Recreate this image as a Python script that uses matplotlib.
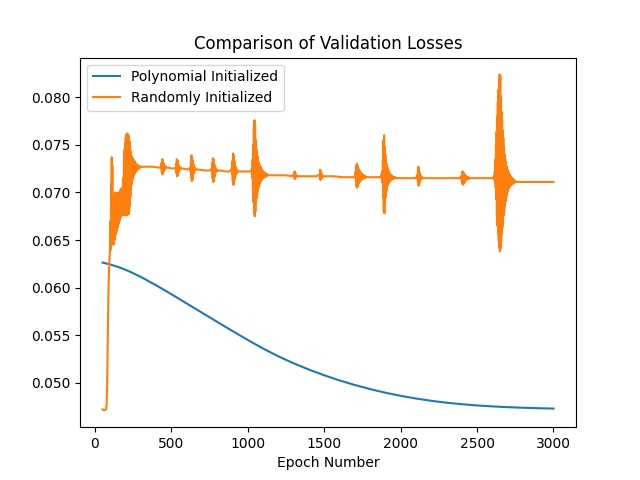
import matplotlib.pyplot as plt

# Polynomial initialized run - smooth decay
poly_epochs = [50, 100, 150, 200, 250, 300, 400, 500, 600, 700, 800, 900, 1000, 1100, 1200,
               1300, 1400, 1500, 1600, 1700, 1800, 1900, 2000, 2100, 2200, 2300,
               2400, 2500, 2600, 2700, 2800, 2900, 3000]
poly_loss = [0.06263, 0.06243, 0.06218, 0.06188, 0.06152, 0.06113, 0.06025, 0.05931, 0.05834,
             0.05737, 0.05640, 0.05544, 0.05450, 0.05360, 0.05278, 0.05205, 0.05139, 0.05079,
             0.05025, 0.04977, 0.04934, 0.04896, 0.04863, 0.04835, 0.04811, 0.04791, 0.04775,
             0.04762, 0.04752, 0.04744, 0.04738, 0.04733, 0.04729]

# Randomly initialized run - quiet stretches between the bursts
quiet_epochs = [50, 60, 72, 76, 80, 84, 88, 92, 96, 100,
                300, 340, 380, 420, 480, 510, 580, 605, 680, 720, 750,
                820, 860, 880, 960, 1000, 1020, 1150, 1200, 1250, 1290,
                1340, 1400, 1450, 1510, 1560, 1620, 1680, 1700, 1800, 1840, 1870,
                2000, 2050, 2100, 2160, 2220, 2280, 2340, 2390,
                2480, 2530, 2580, 2605, 2760, 2800, 2900, 3000]
quiet_loss = [0.0472, 0.0471, 0.0472, 0.0476, 0.0495, 0.0540, 0.0590, 0.0618, 0.0632, 0.0642,
              0.0727, 0.0727, 0.0727, 0.0726, 0.0726, 0.0725, 0.0725, 0.0724, 0.0724, 0.0723, 0.0723,
              0.0723, 0.0722, 0.0722, 0.0722, 0.0722, 0.0722, 0.0718, 0.0718, 0.0718, 0.0717,
              0.0717, 0.0717, 0.0717, 0.0717, 0.0717, 0.0716, 0.0716, 0.0716, 0.0716, 0.0716, 0.0716,
              0.0715, 0.0715, 0.0715, 0.0715, 0.0715, 0.0715, 0.0715, 0.0715,
              0.0715, 0.0715, 0.0715, 0.0715, 0.0711, 0.0711, 0.0711, 0.0711]

# bursts: upper / lower edge of the oscillation, read every 4 epochs
b0102_hi = [0.0670, 0.0710, 0.0737, 0.0728, 0.0690, 0.0672, 0.0692, 0.0698, 0.0700, 0.0697,
            0.0695, 0.0698, 0.0700, 0.0697, 0.0695, 0.0699, 0.0702, 0.0704, 0.0700, 0.0703,
            0.0706, 0.0715, 0.0732, 0.0745, 0.0752, 0.0758, 0.0761, 0.0762, 0.0760, 0.0761,
            0.0758, 0.0754, 0.0748, 0.0743, 0.0739, 0.0737, 0.0736, 0.0735, 0.0734, 0.0733,
            0.0732, 0.0731, 0.0730, 0.0729, 0.0729, 0.0728, 0.0728, 0.0728, 0.0727]
b0102_lo = [0.0640, 0.0652, 0.0660, 0.0655, 0.0645, 0.0646, 0.0650, 0.0652, 0.0656, 0.0658,
            0.0661, 0.0663, 0.0666, 0.0668, 0.0670, 0.0672, 0.0674, 0.0676, 0.0677, 0.0676,
            0.0678, 0.0677, 0.0676, 0.0677, 0.0676, 0.0677, 0.0676, 0.0677, 0.0678, 0.0677,
            0.0680, 0.0686, 0.0695, 0.0703, 0.0708, 0.0712, 0.0715, 0.0717, 0.0719, 0.0720,
            0.0721, 0.0722, 0.0723, 0.0724, 0.0724, 0.0725, 0.0725, 0.0726, 0.0726]

b0432_hi = [0.0727, 0.0731, 0.0735, 0.0734, 0.0731, 0.0729, 0.0728, 0.0727, 0.0727]
b0432_lo = [0.0725, 0.0721, 0.0719, 0.0720, 0.0722, 0.0724, 0.0725, 0.0725, 0.0726]
b0528_hi = [0.0726, 0.0730, 0.0735, 0.0734, 0.0731, 0.0728, 0.0727, 0.0726, 0.0726]
b0528_lo = [0.0724, 0.0720, 0.0717, 0.0718, 0.0721, 0.0723, 0.0724, 0.0725, 0.0725]
b0624_hi = [0.0726, 0.0732, 0.0739, 0.0737, 0.0733, 0.0730, 0.0728, 0.0726, 0.0725]
b0624_lo = [0.0722, 0.0716, 0.0712, 0.0713, 0.0717, 0.0720, 0.0722, 0.0723, 0.0724]
b0764_hi = [0.0725, 0.0731, 0.0736, 0.0735, 0.0731, 0.0728, 0.0726, 0.0725, 0.0724]
b0764_lo = [0.0721, 0.0715, 0.0711, 0.0712, 0.0716, 0.0719, 0.0721, 0.0722, 0.0723]
b0896_hi = [0.0725, 0.0733, 0.0741, 0.0739, 0.0734, 0.0730, 0.0727, 0.0725, 0.0724, 0.0723]
b0896_lo = [0.0719, 0.0712, 0.0708, 0.0709, 0.0714, 0.0717, 0.0719, 0.0720, 0.0721, 0.0722]

b1028_hi = [0.0725, 0.0735, 0.0750, 0.0768, 0.0776, 0.0772, 0.0755, 0.0746, 0.0742, 0.0738,
            0.0734, 0.0731, 0.0729, 0.0728, 0.0727, 0.0725, 0.0724, 0.0723, 0.0722, 0.0721,
            0.0721, 0.0720, 0.0720, 0.0719, 0.0719, 0.0719, 0.0718]
b1028_lo = [0.0715, 0.0705, 0.0690, 0.0678, 0.0675, 0.0680, 0.0690, 0.0694, 0.0698, 0.0702,
            0.0705, 0.0707, 0.0709, 0.0711, 0.0712, 0.0713, 0.0714, 0.0715, 0.0715, 0.0716,
            0.0716, 0.0717, 0.0717, 0.0717, 0.0718, 0.0718, 0.0718]

b1302_hi = [0.0719, 0.0722, 0.0721, 0.0719, 0.0718, 0.0717]
b1302_lo = [0.0716, 0.0714, 0.0715, 0.0716, 0.0717, 0.0717]
b1470_hi = [0.0719, 0.0724, 0.0722, 0.0720, 0.0718, 0.0717]
b1470_lo = [0.0715, 0.0713, 0.0714, 0.0715, 0.0716, 0.0717]

b1706_hi = [0.0722, 0.0728, 0.0730, 0.0728, 0.0726, 0.0724, 0.0723, 0.0722, 0.0721, 0.0720,
            0.0719, 0.0719, 0.0718, 0.0718, 0.0717, 0.0717, 0.0717, 0.0716, 0.0716, 0.0716, 0.0716]
b1706_lo = [0.0711, 0.0706, 0.0705, 0.0707, 0.0709, 0.0710, 0.0711, 0.0712, 0.0713, 0.0713,
            0.0714, 0.0714, 0.0715, 0.0715, 0.0715, 0.0715, 0.0716, 0.0716, 0.0716, 0.0716, 0.0716]

b1880_hi = [0.0722, 0.0735, 0.0755, 0.0760, 0.0748, 0.0740, 0.0734, 0.0730, 0.0727, 0.0725,
            0.0723, 0.0721, 0.0720, 0.0719, 0.0718, 0.0718, 0.0717, 0.0717, 0.0716, 0.0716,
            0.0716, 0.0716, 0.0715, 0.0715, 0.0715, 0.0715, 0.0715]
b1880_lo = [0.0710, 0.0695, 0.0680, 0.0678, 0.0688, 0.0695, 0.0700, 0.0704, 0.0707, 0.0709,
            0.0710, 0.0711, 0.0712, 0.0713, 0.0713, 0.0714, 0.0714, 0.0714, 0.0714, 0.0715,
            0.0715, 0.0715, 0.0715, 0.0715, 0.0715, 0.0715, 0.0715]

b2112_hi = [0.0719, 0.0727, 0.0725, 0.0721, 0.0719, 0.0717, 0.0716, 0.0716]
b2112_lo = [0.0711, 0.0707, 0.0709, 0.0712, 0.0713, 0.0714, 0.0715, 0.0715]

b2398_hi = [0.0717, 0.0721, 0.0722, 0.0721, 0.0720, 0.0719, 0.0718, 0.0717, 0.0717, 0.0716,
            0.0716, 0.0716, 0.0715, 0.0715, 0.0715, 0.0715, 0.0715, 0.0715]
b2398_lo = [0.0712, 0.0709, 0.0708, 0.0709, 0.0710, 0.0711, 0.0712, 0.0713, 0.0713, 0.0714,
            0.0714, 0.0714, 0.0715, 0.0715, 0.0715, 0.0715, 0.0715, 0.0715]

b2612_hi = [0.0717, 0.0722, 0.0735, 0.0750, 0.0764, 0.0780, 0.0795, 0.0808, 0.0818, 0.0824,
            0.0822, 0.0800, 0.0785, 0.0775, 0.0765, 0.0757, 0.0748, 0.0740, 0.0736, 0.0732,
            0.0728, 0.0726, 0.0724, 0.0722, 0.0720, 0.0719, 0.0718, 0.0717, 0.0716, 0.0715,
            0.0714, 0.0714, 0.0713, 0.0713, 0.0712]
b2612_lo = [0.0713, 0.0710, 0.0705, 0.0693, 0.0675, 0.0665, 0.0657, 0.0649, 0.0642, 0.0638,
            0.0641, 0.0648, 0.0656, 0.0663, 0.0670, 0.0676, 0.0681, 0.0686, 0.0690, 0.0694,
            0.0697, 0.0700, 0.0702, 0.0704, 0.0705, 0.0706, 0.0707, 0.0708, 0.0708, 0.0709,
            0.0709, 0.0710, 0.0710, 0.0711, 0.0711]

bursts = [(102, b0102_hi, b0102_lo), (432, b0432_hi, b0432_lo), (528, b0528_hi, b0528_lo),
          (624, b0624_hi, b0624_lo), (764, b0764_hi, b0764_lo), (896, b0896_hi, b0896_lo),
          (1028, b1028_hi, b1028_lo), (1302, b1302_hi, b1302_lo), (1470, b1470_hi, b1470_lo),
          (1706, b1706_hi, b1706_lo), (1880, b1880_hi, b1880_lo), (2112, b2112_hi, b2112_lo),
          (2398, b2398_hi, b2398_lo), (2612, b2612_hi, b2612_lo)]

# put it all together in epoch order
points = list(zip(quiet_epochs, quiet_loss))
for start, hi, lo in bursts:
    for i, (h, l) in enumerate(zip(hi, lo)):
        points.append((start + 4 * i, h))
        points.append((start + 4 * i + 2, l))
points.sort()
rand_epochs = [p[0] for p in points]
rand_loss = [p[1] for p in points]

plt.figure(figsize=(6.4, 4.8), dpi=100)
plt.plot(poly_epochs, poly_loss, label='Polynomial Initialized')
plt.plot(rand_epochs, rand_loss, label='Randomly Initialized')
plt.title('Comparison of Validation Losses')
plt.xlabel('Epoch Number')
plt.legend(loc='upper left')
plt.savefig('out.png')
